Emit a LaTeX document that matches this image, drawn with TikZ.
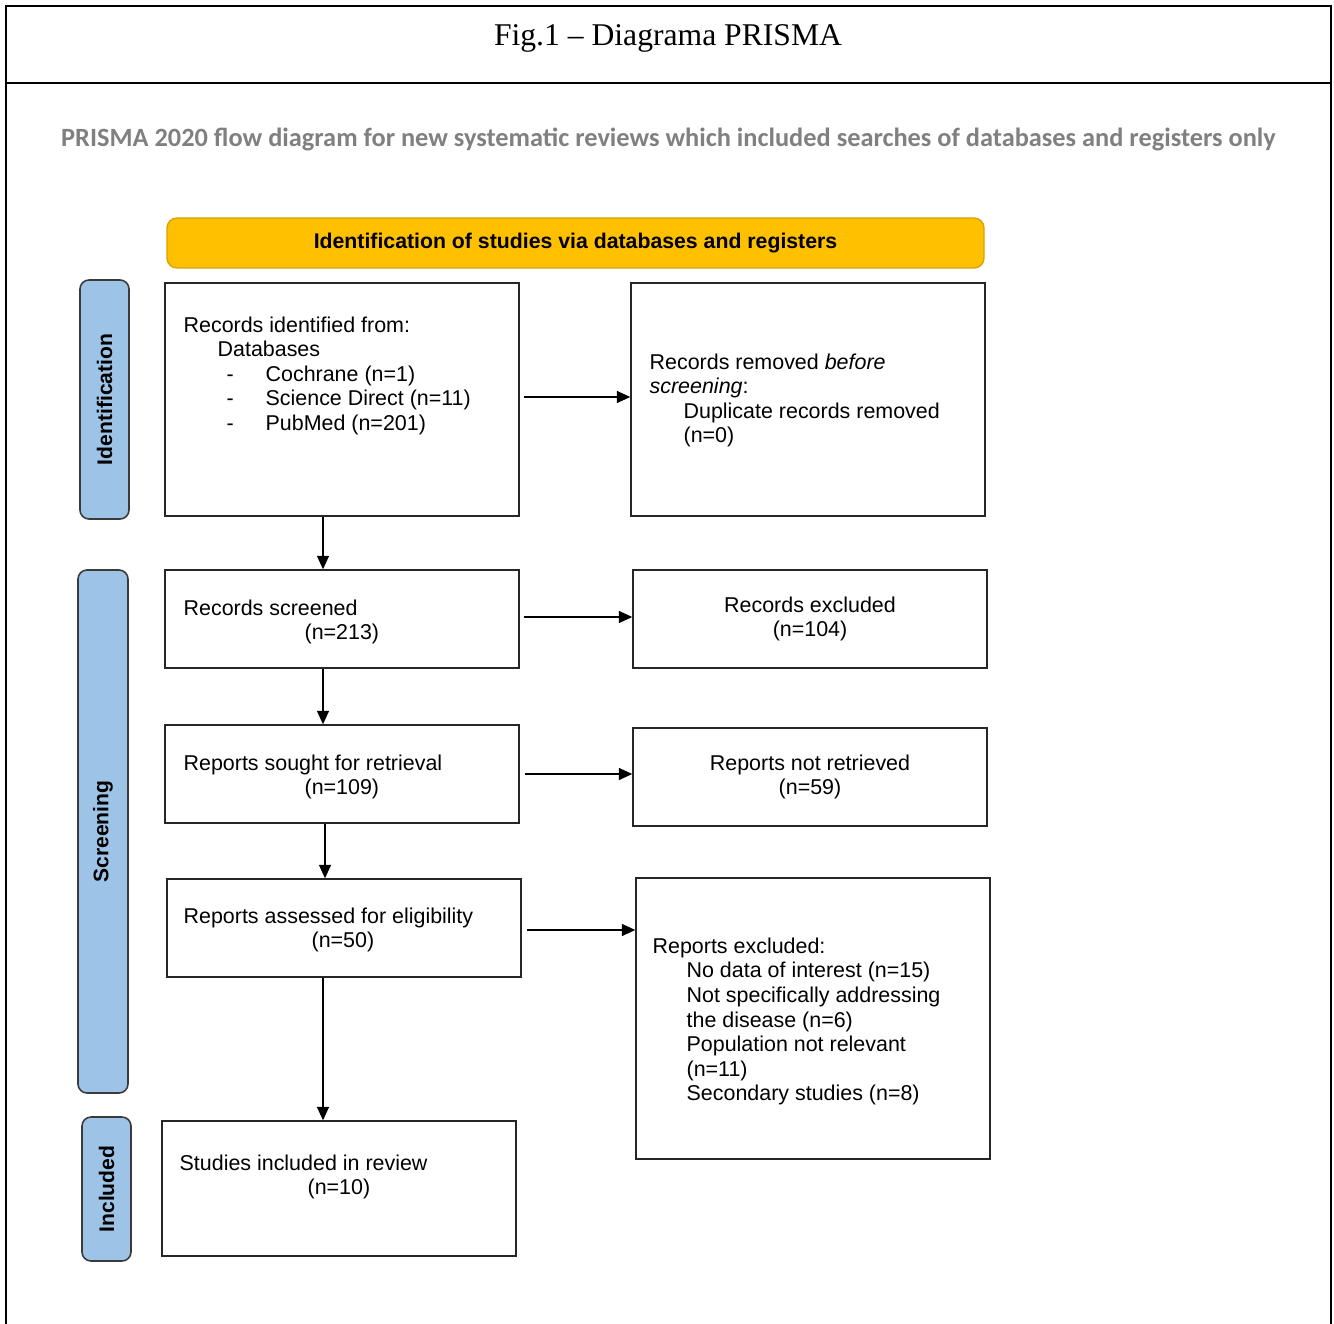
\documentclass[tikz,border=0pt]{standalone}
\usepackage{fontspec}
\setmainfont{Liberation Serif}
\setsansfont{Liberation Sans}
\newfontfamily\carlito{Carlito}
\usetikzlibrary{arrows.meta, positioning}
\definecolor{prismagold}{HTML}{FFC000}
\definecolor{goldline}{HTML}{D9A300}
\definecolor{phaseblue}{HTML}{9DC3E6}
\definecolor{phaseline}{HTML}{3A3A3A}
\definecolor{subgrey}{HTML}{808080}
\tikzset{
  box/.style={rectangle, draw=black!85, line width=0.8pt, fill=white,
              inner sep=0pt, align=center,
              font=\sffamily\fontsize{12.2}{14}\selectfont},
  phase/.style={rectangle, draw=phaseline, line width=0.9pt, fill=phaseblue,
                rounded corners=0.18cm, rotate=90, inner sep=0pt,
                font=\sffamily\bfseries\fontsize{12}{14}\selectfont},
  banner/.style={rectangle, draw=goldline, line width=0.8pt, fill=prismagold,
                 rounded corners=0.2cm, inner sep=0pt,
                 font=\sffamily\bfseries\fontsize{12.1}{14}\selectfont},
  boxtext/.style={inner sep=0pt, anchor=north west, align=left,
                  font=\sffamily\fontsize{12.2}{14}\selectfont},
  arrow/.style={-{Triangle[length=0.27cm, width=0.24cm]}, line width=0.8pt},
}

\begin{document}
\begin{tikzpicture}
  \useasboundingbox (0,0) rectangle (26.68,-26.48);

  % Frame and caption
  \draw[line width=1.4pt] (0.12,-26.6) -- (0.12,-0.12) -- (26.62,-0.12) -- (26.62,-26.6);
  \draw[line width=1.4pt] (0.12,-1.66) -- (26.62,-1.66);
  \node[font=\fontsize{18}{20}\selectfont] (caption) at (13.36,-0.76)
    {Fig.1 \textendash\ Diagrama PRISMA};
  \node[font=\carlito\bfseries\fontsize{15}{17}\selectfont, text=subgrey] (subtitle)
    at (13.37,-2.79)
    {PRISMA 2020 flow diagram for new systematic reviews which included searches of databases and registers only};

  \node[banner, minimum width=16.34cm, minimum height=1.0cm] (banner) at (11.51,-4.86)
    {Identification of studies via databases and registers};

  % Phase bars
  \node[phase, minimum width=4.78cm, minimum height=0.98cm] (phaseid) at (2.09,-7.99) {Identification};
  \node[phase, minimum width=10.46cm, minimum height=1.0cm] (phasescr) at (2.06,-16.63) {Screening};
  \node[phase, minimum width=2.88cm, minimum height=0.98cm] (phaseinc) at (2.13,-23.78) {Included};

  % Left column
  \node[box, minimum width=7.08cm, minimum height=4.66cm] (identified) at (6.84,-7.99) {};
  \node[box, minimum width=7.08cm, minimum height=1.96cm] (screened) at (6.84,-12.38) {};
  \node[box, minimum width=7.08cm, minimum height=1.96cm] (sought) at (6.84,-15.48) {};
  \node[box, minimum width=7.08cm, minimum height=1.96cm] (assessed) at (6.88,-18.56) {};
  \node[box, minimum width=7.08cm, minimum height=2.70cm] (included) at (6.78,-23.77) {};

  % Right column
  \node[box, minimum width=7.08cm, minimum height=4.66cm] (removed) at (16.16,-7.99) {};
  \node[box, minimum width=7.08cm, minimum height=1.96cm] (excluded) at (16.20,-12.38)
    {Records excluded\\(n=104)};
  \node[box, minimum width=7.08cm, minimum height=1.96cm] (notretrieved) at (16.20,-15.54)
    {Reports not retrieved\\(n=59)};
  \node[box, minimum width=7.08cm, minimum height=5.62cm] (repexcluded) at (16.26,-20.37) {};

  % Box texts
  \node[boxtext] (identifiedtxt) at ([shift={(0.38,-0.68)}]identified.north west)
    {Records identified from:\\
     \hspace*{0.68cm}Databases\\
     \hspace*{0.86cm}\makebox[0.78cm][l]{-}Cochrane (n=1)\\
     \hspace*{0.86cm}\makebox[0.78cm][l]{-}Science Direct (n=11)\\
     \hspace*{0.86cm}\makebox[0.78cm][l]{-}PubMed (n=201)};
  \node[boxtext] (removedtxt) at ([shift={(0.38,-1.42)}]removed.north west)
    {Records removed \textit{before}\\
     \textit{screening}:\\
     \hspace*{0.68cm}Duplicate records removed\\
     \hspace*{0.68cm}(n=0)};
  \node[boxtext] (screenedtxt) at ([shift={(0.38,-0.6)}]screened.north west)
    {Records screened\\ \hspace*{2.42cm}(n=213)};
  \node[boxtext] (soughttxt) at ([shift={(0.38,-0.6)}]sought.north west)
    {Reports sought for retrieval\\ \hspace*{2.42cm}(n=109)};
  \node[boxtext] (assessedtxt) at ([shift={(0.34,-0.58)}]assessed.north west)
    {Reports assessed for eligibility\\ \hspace*{2.56cm}(n=50)};
  \node[boxtext] (repexcludedtxt) at ([shift={(0.34,-1.2)}]repexcluded.north west)
    {Reports excluded:\\
     \hspace*{0.68cm}No data of interest (n=15)\\
     \hspace*{0.68cm}Not specifically addressing\\
     \hspace*{0.68cm}the disease (n=6)\\
     \hspace*{0.68cm}Population not relevant\\
     \hspace*{0.68cm}(n=11)\\
     \hspace*{0.68cm}Secondary studies (n=8)};
  \node[boxtext] (includedtxt) at ([shift={(0.36,-0.68)}]included.north west)
    {Studies included in review\\ \hspace*{2.56cm}(n=10)};

  % Arrows
  \draw[arrow, shorten <=0.08cm] ([yshift=0.05cm]identified.east) -- ([yshift=0.05cm]removed.west);
  \draw[arrow, shorten <=0.08cm] ([yshift=0.04cm]screened.east) -- ([yshift=0.04cm]excluded.west);
  \draw[arrow, shorten <=0.1cm] (sought.east) -- (sought.east -| notretrieved.west);
  \draw[arrow, shorten <=0.1cm] ([yshift=-0.04cm]assessed.east) -- ([yshift=-0.04cm]assessed.east -| repexcluded.west);
  \draw[arrow] ([xshift=-0.38cm]identified.south) -- ([xshift=-0.38cm]identified.south |- screened.north);
  \draw[arrow] ([xshift=-0.38cm]screened.south) -- ([xshift=-0.38cm]screened.south |- sought.north);
  \draw[arrow] ([xshift=-0.34cm]sought.south) -- ([xshift=-0.34cm]sought.south |- assessed.north);
  \draw[arrow] ([xshift=-0.42cm]assessed.south) -- ([xshift=-0.42cm]assessed.south |- included.north);
\end{tikzpicture}
\end{document}
